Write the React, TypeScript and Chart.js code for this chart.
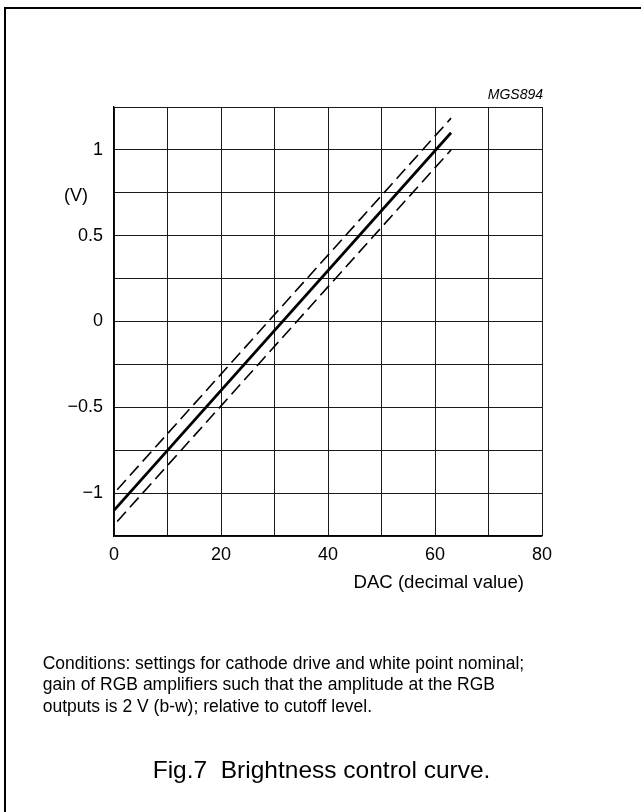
import React, { useEffect, useRef } from "react";
import { Chart, registerables } from "chart.js";

Chart.register(...registerables);

// Nominal brightness control curve (DAC decimal value -> V)
const nominalDac = [0, 63];
const nominalVolt = [-1.1, 1.1];
// Upper tolerance (dashed)
const upperDac = [0.6, 63];
const upperVolt = [-0.98, 1.185];
// Lower tolerance (dashed)
const lowerDac = [0.6, 63];
const lowerVolt = [-1.165, 1.0];

// Axes
const xMin = 0;
const xMax = 80;
const xStep = 10;
const xLabelled = [0, 20, 40, 60, 80];
const yMin = -1.25;
const yMax = 1.25;
const yStep = 0.25;
const yLabelled = [-1, -0.5, 0, 0.5, 1];

const xTitle = "DAC (decimal value)";
const yTitle = "(V)";
const code = "MGS894";
const conditions = [
  "Conditions: settings for cathode drive and white point nominal;",
  "gain of RGB amplifiers such that the amplitude at the RGB",
  "outputs is 2 V (b-w); relative to cutoff level.",
];
const figTitle = "Fig.7\u00a0\u00a0Brightness control curve.";

const FONT = '"Liberation Sans", Arial, Helvetica, sans-serif';

const toPoints = (xs: number[], ys: number[]) => xs.map((x, i) => ({ x, y: ys[i] }));

const fmt = (v: number) => {
  const s = String(v);
  return v < 0 ? "\u2212" + s.slice(1) : s;
};

export default function App() {
  const ref = useRef<HTMLCanvasElement | null>(null);

  useEffect(() => {
    if (!ref.current) return;
    const chart = new Chart(ref.current, {
      type: "scatter",
      data: {
        datasets: [
          {
            data: toPoints(upperDac, upperVolt),
            showLine: true,
            borderColor: "#000",
            borderWidth: 1.6,
            borderDash: [13, 6],
            pointRadius: 0,
          },
          {
            data: toPoints(lowerDac, lowerVolt),
            showLine: true,
            borderColor: "#000",
            borderWidth: 1.6,
            borderDash: [13, 6],
            pointRadius: 0,
          },
          {
            data: toPoints(nominalDac, nominalVolt),
            showLine: true,
            borderColor: "#000",
            borderWidth: 2.7,
            pointRadius: 0,
          },
        ],
      },
      options: {
        animation: false,
        responsive: false,
        devicePixelRatio: 1,
        layout: { padding: { left: 0, top: 107, right: 99, bottom: 236 } },
        plugins: { legend: { display: false }, tooltip: { enabled: false } },
        scales: {
          x: {
            type: "linear",
            min: xMin,
            max: xMax,
            afterFit: (s: any) => {
              s.height = 40;
            },
            ticks: {
              stepSize: xStep,
              autoSkip: false,
              maxRotation: 0,
              padding: 8,
              color: "#000",
              font: { family: FONT, size: 18 },
              callback: (v: any) => (xLabelled.includes(Number(v)) ? fmt(Number(v)) : ""),
            },
            grid: { color: "#1a1a1a", lineWidth: 1, drawTicks: false },
            border: { display: true, color: "#000", width: 1.3 },
          },
          y: {
            type: "linear",
            min: yMin,
            max: yMax,
            afterFit: (s: any) => {
              s.width = 114;
            },
            ticks: {
              stepSize: yStep,
              autoSkip: false,
              padding: 11,
              color: "#000",
              font: { family: FONT, size: 18 },
              callback: (v: any) => {
                const n = Math.round(Number(v) * 100) / 100;
                return yLabelled.includes(n) ? fmt(n) : "";
              },
            },
            grid: { color: "#1a1a1a", lineWidth: 1, drawTicks: false },
            border: { display: true, color: "#000", width: 1.3 },
          },
        },
      },
    });
    return () => chart.destroy();
  }, []);

  const abs = (o: React.CSSProperties): React.CSSProperties => ({
    position: "absolute",
    margin: 0,
    whiteSpace: "nowrap",
    fontFamily: FONT,
    color: "#000",
    ...o,
  });

  return (
    <div
      style={{
        position: "absolute",
        left: 0,
        top: 0,
        width: 641,
        height: 812,
        overflow: "hidden",
        background: "#fff",
      }}
    >
      <div
        style={{
          position: "absolute",
          left: 4,
          top: 7,
          width: 800,
          height: 1000,
          border: "2px solid #000",
          boxSizing: "border-box",
        }}
      />
      <canvas ref={ref} width={641} height={812} style={{ position: "absolute", left: 0, top: 0, width: 641, height: 812 }} />
      <div style={abs({ left: 0, width: 543, top: 94 - 7, fontSize: 14, lineHeight: "14px", fontStyle: "italic", textAlign: "right" })}>
        {code}
      </div>
      <div style={abs({ left: 64, top: 195 - 9, fontSize: 18, lineHeight: "18px" })}>{yTitle}</div>
      <div style={abs({ left: 0, width: 524, top: 582 - 9, fontSize: 18.6, lineHeight: "18.6px", textAlign: "right" })}>
        {xTitle}
      </div>
      <div style={abs({ left: 42.7, top: 652.6, fontSize: 17.5, lineHeight: "21.8px" })}>
        {conditions.map((c, i) => (
          <div key={i}>{c}</div>
        ))}
      </div>
      <div style={abs({ left: 152.7, top: 758, fontSize: 24.5, lineHeight: "24.5px" })}>{figTitle}</div>
    </div>
  );
}
